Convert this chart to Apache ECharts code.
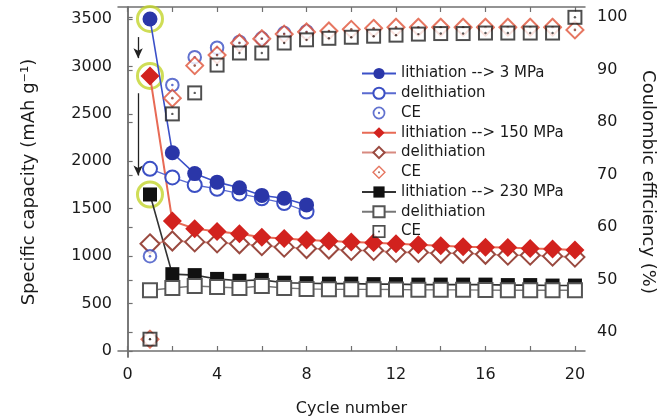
<!DOCTYPE html>
<html>
<head>
<meta charset="utf-8">
<script src="https://cdn.jsdelivr.net/npm/echarts@6/dist/echarts.min.js"></script>
<style>
html,body{margin:0;padding:0;background:#fff;}
#c{width:667px;height:419px;}
</style>
</head>
<body>
<div id="c"></div>
<script>
// ---- data ----
var cycles = [1,2,3,4,5,6,7,8,9,10,11,12,13,14,15,16,17,18,19,20];
var xTicks = [0,4,8,12,16,20];
var xMinorTicks = [0,2,4,6,8,10,12,14,16,18,20];
var leftTicks = [0,500,1000,1500,2000,2500,3000,3500];
var rightTicks = [40,50,60,70,80,90,100];

var lith3   = [3500, 2090, 1870, 1780, 1720, 1640, 1610, 1540];
var delith3 = [1920, 1830, 1750, 1710, 1660, 1610, 1560, 1470];
var ce3     = [54.5, 87.1, 92.4, 94.2, 95.3, 96.0, 97.0, 97.3];

var lith150   = [2900, 1370, 1290, 1260, 1235, 1200, 1185, 1170, 1160, 1150, 1140, 1130, 1120, 1110, 1100, 1095, 1090, 1080, 1075, 1065];
var delith150 = [1130, 1160, 1150, 1140, 1130, 1110, 1095, 1080, 1075, 1060, 1060, 1040, 1040, 1030, 1030, 1020, 1010, 1010, 1000, 990];
var ce150     = [38.7, 84.6, 90.8, 92.8, 95.1, 95.9, 96.8, 97.2, 97.4, 97.7, 97.9, 98.1, 98.1, 98.1, 98.1, 98.1, 98.1, 98.1, 98.1, 97.6];

var lith230   = [1650, 810, 800, 760, 740, 750, 720, 715, 710, 710, 705, 705, 700, 700, 700, 700, 695, 695, 690, 690];
var delith230 = [640, 665, 685, 675, 665, 685, 665, 655, 650, 650, 650, 648, 645, 645, 645, 642, 640, 640, 640, 640];
var ce230     = [38.7, 81.6, 85.6, 90.9, 93.2, 93.2, 95.1, 95.7, 96.0, 96.2, 96.4, 96.6, 96.8, 96.9, 96.9, 97.0, 97.0, 97.0, 97.0, 100];

// arrows (cycle, capacity) start -> end
var arrow1 = [[0.47, 3309], [0.47, 3087]];
var arrow2 = [[0.47, 2717], [0.47, 1850]];

function pairs(v){ return v.map(function(y,i){ return [cycles[i], y]; }); }
function svgSym(s){ return 'image://data:image/svg+xml;charset=utf-8,' + encodeURIComponent(s); }

var symCE3 = svgSym('<svg xmlns="http://www.w3.org/2000/svg" width="16" height="16" viewBox="0 0 16 16"><circle cx="8" cy="8" r="6.3" fill="#fff" stroke="#3b50c4" stroke-width="2"/><circle cx="8" cy="8" r="1.3" fill="#3b50c4"/></svg>');
var symCE150 = svgSym('<svg xmlns="http://www.w3.org/2000/svg" width="20" height="20" viewBox="0 0 20 20"><polygon points="10,1.5 18.5,10 10,18.5 1.5,10" fill="#fff" stroke="#e0553a" stroke-width="2"/><circle cx="10" cy="10" r="1.3" fill="#8a3a2a"/></svg>');
var symCE230 = svgSym('<svg xmlns="http://www.w3.org/2000/svg" width="16" height="16" viewBox="0 0 16 16"><rect x="1.5" y="1.5" width="13" height="13" fill="#fff" stroke="#222" stroke-width="2"/><circle cx="8" cy="8" r="1.2" fill="#333"/></svg>');

var FONT = 'DejaVu Sans';
var TXT = '#1a1a1a';
var AX = '#707070';

var chart = echarts.init(document.getElementById('c'), null, {renderer:'canvas'});
chart.setOption({
  animation: false,
  backgroundColor: '#fff',
  grid: {left: 118, right: 82, top: 7, bottom: 62, containLabel: false, outerBoundsMode: 'none'},
  legend: {
    orient: 'vertical', left: 356, top: 61,
    itemWidth: 34, itemHeight: 14, itemGap: 4.75,
    textStyle: {fontFamily: FONT, fontSize: 15, color: TXT, lineHeight: 14},
    data: ['lithiation --> 3 MPa','delithiation','CE','lithiation --> 150 MPa','delithiation ','CE ','lithiation --> 230 MPa','delithiation  ','CE  ']
  },
  xAxis: [{
    type: 'value', min: -0.43, max: 20.45,
    axisLine: {show: true, lineStyle: {color: AX, width: 1.5}},
    axisTick: {show: true, inside: true, length: 5, customValues: xMinorTicks, lineStyle: {color: AX, width: 1.2}},
    axisLabel: {customValues: xTicks, fontFamily: FONT, fontSize: 16, color: TXT, margin: 10},
    splitLine: {show: false},
    name: 'Cycle number', nameLocation: 'middle', nameGap: 44,
    nameTextStyle: {fontFamily: FONT, fontSize: 16, color: TXT}
  },{
    type: 'value', position: 'top', min: -0.43, max: 20.45,
    axisLine: {show: true, lineStyle: {color: AX, width: 1.5}},
    axisTick: {show: true, inside: true, length: 5, customValues: xMinorTicks, lineStyle: {color: AX, width: 1.2}},
    axisLabel: {show: false}, splitLine: {show: false}
  }],
  yAxis: [{
    type: 'value', min: -63, max: 3626,
    axisLine: {show: true, lineStyle: {color: AX, width: 1.5}},
    axisTick: {show: true, inside: true, length: 5, customValues: leftTicks, lineStyle: {color: AX, width: 1.2}},
    axisLabel: {customValues: leftTicks, fontFamily: FONT, fontSize: 16, color: TXT, margin: 6,
      formatter: function(v){ return String(v); }},
    splitLine: {show: false},
    name: 'Specific capacity (mAh g\u207B\u00B9)', nameLocation: 'middle', nameGap: 80,
    nameTextStyle: {fontFamily: FONT, fontSize: 18, color: TXT}
  },{
    type: 'value', position: 'right', min: 35.3, max: 101.96,
    axisLine: {show: true, lineStyle: {color: AX, width: 1.5}},
    axisTick: {show: true, inside: false, length: 5, customValues: rightTicks, lineStyle: {color: AX, width: 1.2}},
    axisLabel: {customValues: rightTicks, fontFamily: FONT, fontSize: 16, color: TXT, margin: 12,
      formatter: function(v){ return String(v); }},
    splitLine: {show: false},
    name: 'Coulombic efficiency (%)', nameLocation: 'middle', nameGap: 45, nameRotate: -90,
    nameTextStyle: {fontFamily: FONT, fontSize: 18, color: TXT}
  }],
  series: [
    {
      name: 'highlight', type: 'scatter', silent: true, z: 1,
      symbol: 'circle', symbolSize: 25,
      itemStyle: {color: 'rgba(0,0,0,0)', borderColor: '#c3d42c', borderWidth: 3},
      data: [[cycles[0], lith3[0]], [cycles[0], lith150[0]], [cycles[0], lith230[0]]],
      markLine: {
        silent: true, symbol: ['none','arrow'], symbolSize: [7, 10],
        label: {show: false},
        lineStyle: {color: '#222', width: 1.3, type: 'solid'},
        data: [
          [{coord: arrow1[0]}, {coord: arrow1[1]}],
          [{coord: arrow2[0]}, {coord: arrow2[1]}]
        ]
      }
    },
    {
      name: 'lithiation --> 230 MPa', type: 'line', z: 2,
      symbol: 'rect', symbolSize: 14,
      lineStyle: {color: '#333', width: 1.6},
      itemStyle: {color: '#111'},
      data: pairs(lith230)
    },
    {
      name: 'delithiation  ', type: 'line', z: 2,
      symbol: 'emptyRect', symbolSize: 14,
      lineStyle: {color: '#777', width: 1.4},
      itemStyle: {color: '#555', borderWidth: 1.5},
      data: pairs(delith230)
    },
    {
      name: 'delithiation ', type: 'line', z: 2,
      symbol: 'emptyDiamond', symbolSize: 19,
      lineStyle: {color: '#d88a80', width: 1.6},
      itemStyle: {color: '#9a4a40', borderWidth: 1.5},
      data: pairs(delith150)
    },
    {
      name: 'lithiation --> 150 MPa', type: 'line', z: 2,
      symbol: 'diamond', symbolSize: 19,
      lineStyle: {color: '#e86a55', width: 2},
      itemStyle: {color: '#d2221e'},
      data: pairs(lith150)
    },
    {
      name: 'delithiation', type: 'line', z: 2,
      symbol: 'emptyCircle', symbolSize: 14,
      lineStyle: {color: '#5a6ad0', width: 1.3},
      itemStyle: {color: '#3b4fc4', borderWidth: 1.5},
      data: pairs(delith3)
    },
    {
      name: 'lithiation --> 3 MPa', type: 'line', z: 2,
      symbol: 'circle', symbolSize: 15,
      lineStyle: {color: '#3b50c8', width: 1.6},
      itemStyle: {color: '#2a36a8'},
      data: pairs(lith3)
    },
    {
      name: 'CE', type: 'scatter', yAxisIndex: 1, z: 3,
      symbol: symCE3, symbolSize: 16,
      data: pairs(ce3)
    },
    {
      name: 'CE ', type: 'scatter', yAxisIndex: 1, z: 3,
      symbol: symCE150, symbolSize: 20,
      data: pairs(ce150)
    },
    {
      name: 'CE  ', type: 'scatter', yAxisIndex: 1, z: 3,
      symbol: symCE230, symbolSize: 16,
      data: pairs(ce230)
    }
  ]
});
</script>
</body>
</html>
